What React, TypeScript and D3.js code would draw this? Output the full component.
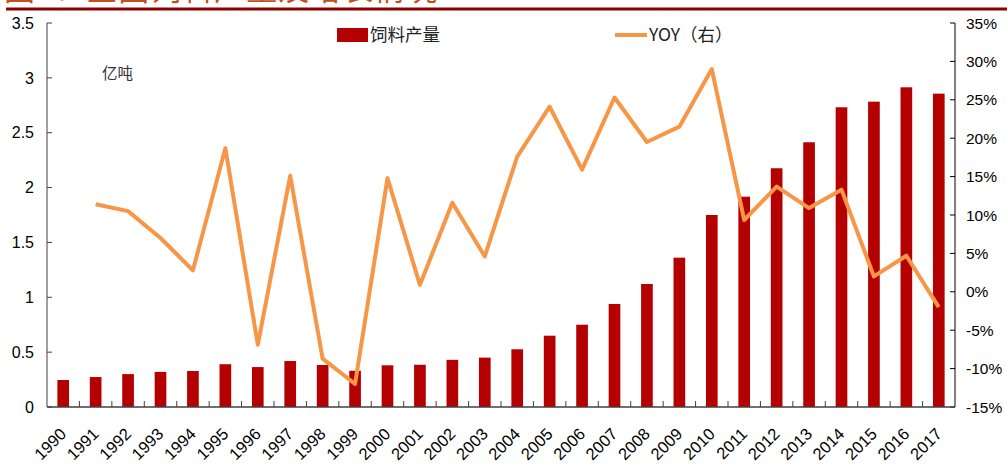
import React from "react";
import * as d3 from "d3";

const years = [
  "1990","1991","1992","1993","1994","1995","1996","1997","1998","1999",
  "2000","2001","2002","2003","2004","2005","2006","2007","2008","2009",
  "2010","2011","2012","2013","2014","2015","2016","2017",
];
const feedOutput = [
  0.246, 0.273, 0.3, 0.32, 0.328, 0.39, 0.364, 0.419, 0.383, 0.33,
  0.38, 0.385, 0.43, 0.45, 0.526, 0.65, 0.75, 0.939, 1.121, 1.361,
  1.75, 1.917, 2.176, 2.413, 2.732, 2.783, 2.914, 2.856,
];
const yoy: (number | null)[] = [
  null, 11.4, 10.5, 7.0, 2.8, 18.7, -6.9, 15.1, -8.7, -12.0,
  14.8, 0.9, 11.6, 4.6, 17.6, 24.1, 15.9, 25.3, 19.5, 21.5,
  29.0, 9.35, 13.7, 10.9, 13.3, 2.0, 4.7, -2.0,
];
const leftTicks = [0, 0.5, 1, 1.5, 2, 2.5, 3, 3.5];
const rightTicks = [-15, -10, -5, 0, 5, 10, 15, 20, 25, 30, 35];
const titleText = "图4：全国饲料产量及增长情况";
const barLabel = "饲料产量";
const lineLabel = "YOY（右）";
const unitLabel = "亿吨";

const W = 1007, H = 466;
const L = 47, R = 955, T = 23, B = 407;
const FONT = "'Liberation Sans', Arial, sans-serif";
const CJK = "'Noto Sans CJK SC', 'Liberation Sans', sans-serif";

export default function App() {
  const x = d3.scaleBand<string>().domain(years).range([L, R]).paddingInner(0).paddingOuter(0);
  const yL = d3.scaleLinear().domain([0, 3.5]).range([B, T]);
  const yR = d3.scaleLinear().domain([-15, 35]).range([B, T]);
  const bw = x.bandwidth() * 0.36;
  const line = d3
    .line<number | null>()
    .defined((d) => d !== null)
    .x((_, i) => (x(years[i]) as number) + x.bandwidth() / 2)
    .y((d) => yR(d as number));
  const axisColor = "#404040";

  return (
    <svg width={W} height={H} style={{ position: "absolute", left: 0, top: 0, background: "#fff" }}>
      <rect x={0} y={0} width={W} height={H} fill="#fff" />
      {/* title, cut off at the top edge as in the source */}
      <text x={4} y={-0.5} fontFamily={CJK} fontSize={31} fill="#C0501F" letterSpacing={1}>
        {titleText}
      </text>
      <line x1={6} x2={W} y1={9} y2={9} stroke="#8B0000" strokeWidth={3} />

      {/* bars */}
      {feedOutput.map((v, i) => {
        const cx = (x(years[i]) as number) + x.bandwidth() / 2;
        return (
          <rect key={i} x={cx - bw / 2} y={yL(v)} width={bw} height={B - yL(v)} fill="#B40000" />
        );
      })}

      {/* line */}
      <path d={line(yoy) || ""} fill="none" stroke="#F79646" strokeWidth={4} strokeLinejoin="round" />

      {/* left axis */}
      <line x1={L} x2={L} y1={T} y2={B} stroke={axisColor} strokeWidth={1} />
      {leftTicks.map((t) => (
        <g key={t}>
          <line x1={L} x2={L + 5} y1={yL(t)} y2={yL(t)} stroke={axisColor} />
          <text x={L - 13} y={yL(t)} dy="0.36em" textAnchor="end" fontFamily={FONT} fontSize={16} fill="#000">
            {t}
          </text>
        </g>
      ))}

      {/* right axis */}
      <line x1={R} x2={R} y1={T} y2={B} stroke="#000" strokeWidth={1} />
      {rightTicks.map((t) => (
        <g key={t}>
          <line x1={R - 5} x2={R} y1={yR(t)} y2={yR(t)} stroke="#000" />
          <text x={R + 11} y={yR(t)} dy="0.36em" textAnchor="start" fontFamily={FONT} fontSize={15.5} fill="#000">
            {t + "%"}
          </text>
        </g>
      ))}

      {/* bottom axis */}
      <line x1={L} x2={R} y1={B} y2={B} stroke={axisColor} strokeWidth={1.5} />
      {years.map((yr, i) =>
        i > 0 ? (
          <line key={"t" + yr} x1={x(yr) as number} x2={x(yr) as number} y1={B - 6} y2={B} stroke={axisColor} />
        ) : null
      )}
      {years.map((yr) => {
        const cx = (x(yr) as number) + x.bandwidth() / 2;
        return (
          <text
            key={yr}
            transform={`translate(${cx},${B + 24}) rotate(-45)`}
            textAnchor="end"
            dy="0.35em"
            fontFamily={FONT}
            fontSize={16.5}
            fill="#000"
          >
            {yr}
          </text>
        );
      })}

      {/* unit label */}
      <text x={102} y={73} dy="0.36em" fontFamily={CJK} fontSize={15.5} fill="#333">
        {unitLabel}
      </text>

      {/* legend */}
      <rect x={337} y={28} width={31} height={14} fill="#B40000" />
      <text x={370} y={35} dy="0.36em" fontFamily={CJK} fontSize={17.5} fill="#222">
        {barLabel}
      </text>
      <line x1={615} x2={647} y1={35} y2={35} stroke="#F79646" strokeWidth={4} />
      <text x={649} y={35} dy="0.36em" fontFamily={CJK} fontSize={17.5} fill="#222">
        {lineLabel}
      </text>
    </svg>
  );
}
